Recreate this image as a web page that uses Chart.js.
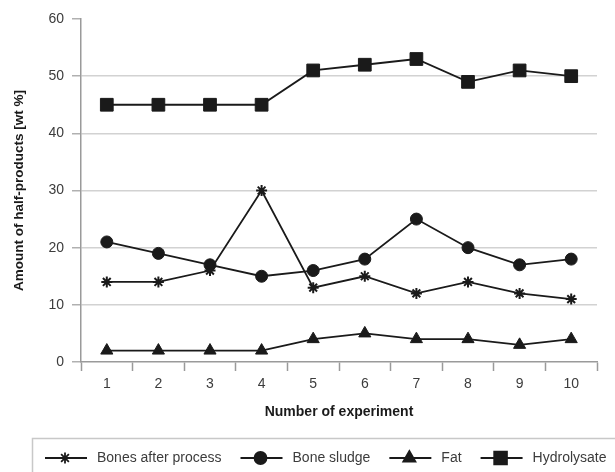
<!DOCTYPE html>
<html>
<head>
<meta charset="utf-8">
<script src="https://cdn.jsdelivr.net/npm/chart.js@4/dist/chart.umd.min.js"></script>
<style>
  html, body { margin: 0; padding: 0; background: #fff; }
  #wrap { width: 615px; height: 472px; position: relative; }
</style>
</head>
<body>
<div id="wrap"><canvas id="chart"></canvas></div>
<script>
// experiment numbers
const experiments = ["1", "2", "3", "4", "5", "6", "7", "8", "9", "10"];

// amounts of half-products [wt %]
const bonesAfterProcess = [14, 14, 16, 30, 13, 15, 12, 14, 12, 11];
const boneSludge = [21, 19, 17, 15, 16, 18, 25, 20, 17, 18];
const fat = [2, 2, 2, 2, 4, 5, 4, 4, 3, 4];
const hydrolysate = [45, 45, 45, 45, 51, 52, 53, 49, 51, 50];

const yTicks = [0, 10, 20, 30, 40, 50, 60];

const lineColor = "#1a1a1a";
const textColor = "#3c3c3c";
const fontFamily = "'Liberation Sans', Arial, sans-serif";

function series(label, data, style, radius) {
  return {
    label: label,
    data: data,
    borderColor: lineColor,
    backgroundColor: lineColor,
    borderWidth: 1.8,
    pointStyle: style,
    pointRadius: radius,
    pointBorderWidth: style === "star" ? 2 : 1,
    pointBorderColor: lineColor,
    pointBackgroundColor: lineColor,
    tension: 0,
    fill: false,
  };
}

// legend drawn below the chart in a framed box
const boxLegend = {
  id: "boxLegend",
  afterDraw(chart) {
    const ctx = chart.ctx;
    ctx.save();
    ctx.strokeStyle = "#c8c8c8";
    ctx.lineWidth = 1.5;
    ctx.strokeRect(32.5, 438.5, 620, 60);
    ctx.font = "14px " + fontFamily;
    ctx.textBaseline = "middle";
    let x = 45;
    const y = 458;
    chart.data.datasets.forEach((ds) => {
      ctx.strokeStyle = lineColor;
      ctx.lineWidth = 1.8;
      ctx.beginPath();
      ctx.moveTo(x, y);
      ctx.lineTo(x + 42, y);
      ctx.stroke();
      ctx.fillStyle = lineColor;
      Chart.helpers.drawPoint(ctx, {
        pointStyle: ds.pointStyle,
        radius: ds.pointRadius,
        borderWidth: ds.pointBorderWidth,
      }, x + 20, y);
      ctx.fillStyle = textColor;
      ctx.fillText(ds.label, x + 52, y);
      x += 52 + ctx.measureText(ds.label).width + 19;
    });
    ctx.restore();
  },
};

const ctx = document.getElementById("chart").getContext("2d");
new Chart(ctx, {
  type: "line",
  data: {
    labels: experiments,
    datasets: [
      series("Bones after process", bonesAfterProcess, "star", 5.5),
      series("Bone sludge", boneSludge, "circle", 6),
      series("Fat", fat, "triangle", 7),
      series("Hydrolysate", hydrolysate, "rect", 9),
    ],
  },
  options: {
    responsive: true,
    maintainAspectRatio: false,
    animation: false,
    layout: { padding: { left: 0, right: 18, top: 19, bottom: 40 } },
    plugins: {
      legend: { display: false },
      tooltip: { enabled: false },
    },
    scales: {
      x: {
        offset: true,
        grid: {
          offset: true,
          drawOnChartArea: false,
          drawTicks: true,
          tickLength: 9,
          tickWidth: 1.5,
          tickColor: "#9a9a9a",
        },
        border: { color: "#9a9a9a", width: 1.5 },
        ticks: {
          color: textColor,
          font: { family: fontFamily, size: 14 },
          padding: 5,
          maxRotation: 0,
        },
        title: {
          display: true,
          text: "Number of experiment",
          color: "#1a1a1a",
          font: { family: fontFamily, size: 14, weight: "bold" },
          padding: { top: 0, bottom: 11 },
        },
        afterFit: (scale) => { scale.height = 70; },
      },
      y: {
        min: 0,
        max: 60,
        afterBuildTicks: (scale) => {
          scale.ticks = yTicks.map((v) => ({ value: v }));
        },
        grid: {
          color: (c) => (c.tick && (c.tick.value === 60 || c.tick.value === 0) ? "rgba(0,0,0,0)" : "#d2d2d2"),
          lineWidth: 1.5,
          drawTicks: true,
          tickLength: 9,
          tickWidth: 1.5,
          tickColor: "#b0b0b0",
        },
        border: { color: "#9a9a9a", width: 1.5 },
        ticks: {
          color: textColor,
          font: { family: fontFamily, size: 14 },
          padding: 8,
        },
        title: {
          display: true,
          text: "Amount of half-products [wt %]",
          color: "#1a1a1a",
          font: { family: fontFamily, size: 13.5, weight: "bold" },
          padding: { top: 11, bottom: 0 },
        },
        afterFit: (scale) => { scale.width = 81; },
      },
    },
  },
  plugins: [boxLegend],
});
</script>
</body>
</html>
